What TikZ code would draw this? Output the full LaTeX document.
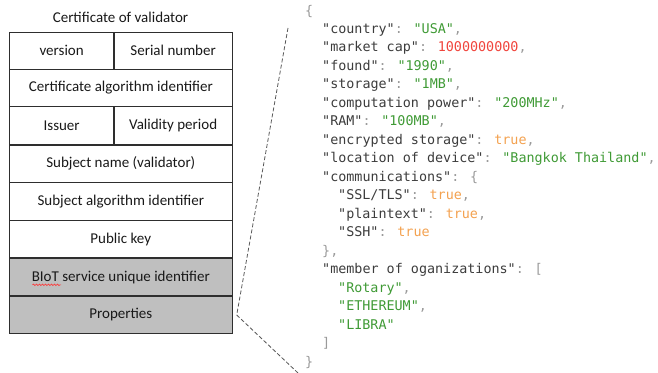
\documentclass[tikz,border=0pt]{standalone}
\usepackage{fontspec}
\usetikzlibrary{decorations.pathmorphing}
\setmainfont{Carlito}
\newfontfamily\codefont{DejaVu Sans Mono}
\definecolor{keyc}{HTML}{3C3C3C}
\definecolor{punc}{HTML}{9A9A9A}
\definecolor{strc}{HTML}{3F9A35}
\definecolor{numc}{HTML}{F0443C}
\definecolor{boolc}{HTML}{F3A14F}
\definecolor{cellgrey}{HTML}{BFBFBF}
\definecolor{edge}{HTML}{2E2E2E}
\newcommand\jkey[1]{\textcolor{keyc}{"#1"}\textcolor{punc}{:} }
\newcommand\jstr[1]{\textcolor{strc}{"#1"}}
\newcommand\jnum[1]{\textcolor{numc}{#1}}
\newcommand\jbool[1]{\textcolor{boolc}{#1}}
\newcommand\jp[1]{\textcolor{punc}{#1}}
\begin{document}
\begin{tikzpicture}[x=1pt,y=-1pt,
  label font/.style={font=\fontsize{15}{17}\selectfont,text=black!90},
  cell/.style={draw=edge,line width=1.1pt,rectangle,inner sep=0pt,label font},
  wide/.style={cell,minimum width=223pt,minimum height=37.5pt},
  half/.style={cell,minimum height=37.5pt},
  shade/.style={fill=cellgrey},
  code/.style={anchor=base west,inner sep=0pt,font=\fontsize{13.4}{16}\codefont},
  link/.style={draw=black!65,line width=0.8pt,dash pattern=on 4pt off 2.2pt}]
\useasboundingbox (0,0) rectangle (658,372);

% certificate fields
\node[label font] (title) at (120.5,17) {Certificate of validator};
\node[half,minimum width=104.7pt] (ver) at (61.65,50.8) {version};
\node[half,minimum width=118.3pt] (serial) at (173.15,50.8) {Serial number};
\node[wide] (calg) at (120.8,88) {Certificate algorithm identifier};
\node[half,minimum width=104.7pt,minimum height=38.3pt] (issuer) at (61.65,125.85) {Issuer};
\node[half,minimum width=118.3pt,minimum height=38.3pt] (valid) at (173.15,125.85) {Validity period};
\node[wide] (subj) at (120.8,163.6) {Subject name (validator)};
\node[wide] (salg) at (120.8,201.4) {Subject algorithm identifier};
\node[wide] (pub) at (120.8,239.1) {Public key};
\node[wide,shade] (biot) at (120.8,277.2) {BIoT service unique identifier};
\node[wide,shade,minimum height=36.6pt] (props) at (120.8,315) {Properties};
% spell-check underline
\draw[red!80,line width=0.6pt,decorate,decoration={snake,amplitude=0.8pt,segment length=3pt}]
  (32.5,284.8) -- (61,284.8);

% JSON document
\begin{scope}[every node/.style={code}]
\node (l0)  at (305,15.5)  {\jp{\{}};
\node (l1)  at (322,33)    {\jkey{country}\jstr{USA}\jp{,}};
\node (l2)  at (322,51.5)  {\jkey{market cap}\jnum{1000000000}\jp{,}};
\node (l3)  at (322,70)    {\jkey{found}\jstr{1990}\jp{,}};
\node (l4)  at (322,88.5)  {\jkey{storage}\jstr{1MB}\jp{,}};
\node (l5)  at (322,107)   {\jkey{computation power}\jstr{200MHz}\jp{,}};
\node (l6)  at (322,125.5) {\jkey{RAM}\jstr{100MB}\jp{,}};
\node (l7)  at (322,144)   {\jkey{encrypted storage}\jbool{true}\jp{,}};
\node (l8)  at (322,162.5) {\jkey{location of device}\jstr{Bangkok Thailand}\jp{,}};
\node (l9)  at (322,181)   {\jkey{communications}\jp{\{}};
\node (l10) at (338,199.5) {\jkey{SSL/TLS}\jbool{true}\jp{,}};
\node (l11) at (338,218)   {\jkey{plaintext}\jbool{true}\jp{,}};
\node (l12) at (338,236.5) {\jkey{SSH}\jbool{true}};
\node (l13) at (322,255)   {\jp{\},}};
\node (l14) at (322,273.5) {\jkey{member of oganizations}\jp{[}};
\node (l15) at (338,292)   {\jstr{Rotary}\jp{,}};
\node (l16) at (338,310.5) {\jstr{ETHEREUM}\jp{,}};
\node (l17) at (338,329)   {\jstr{LIBRA}};
\node (l18) at (322,347.5) {\jp{]}};
\node (l19) at (305,366)   {\jp{\}}};
\end{scope}

% callout from the Properties field to the JSON block
\coordinate (pin) at (236.7,315);
\coordinate (jtop) at (288,28);
\coordinate (jbot) at (298,373);
\draw[link] (jtop) -- (pin) -- (jbot);
\end{tikzpicture}
\end{document}
